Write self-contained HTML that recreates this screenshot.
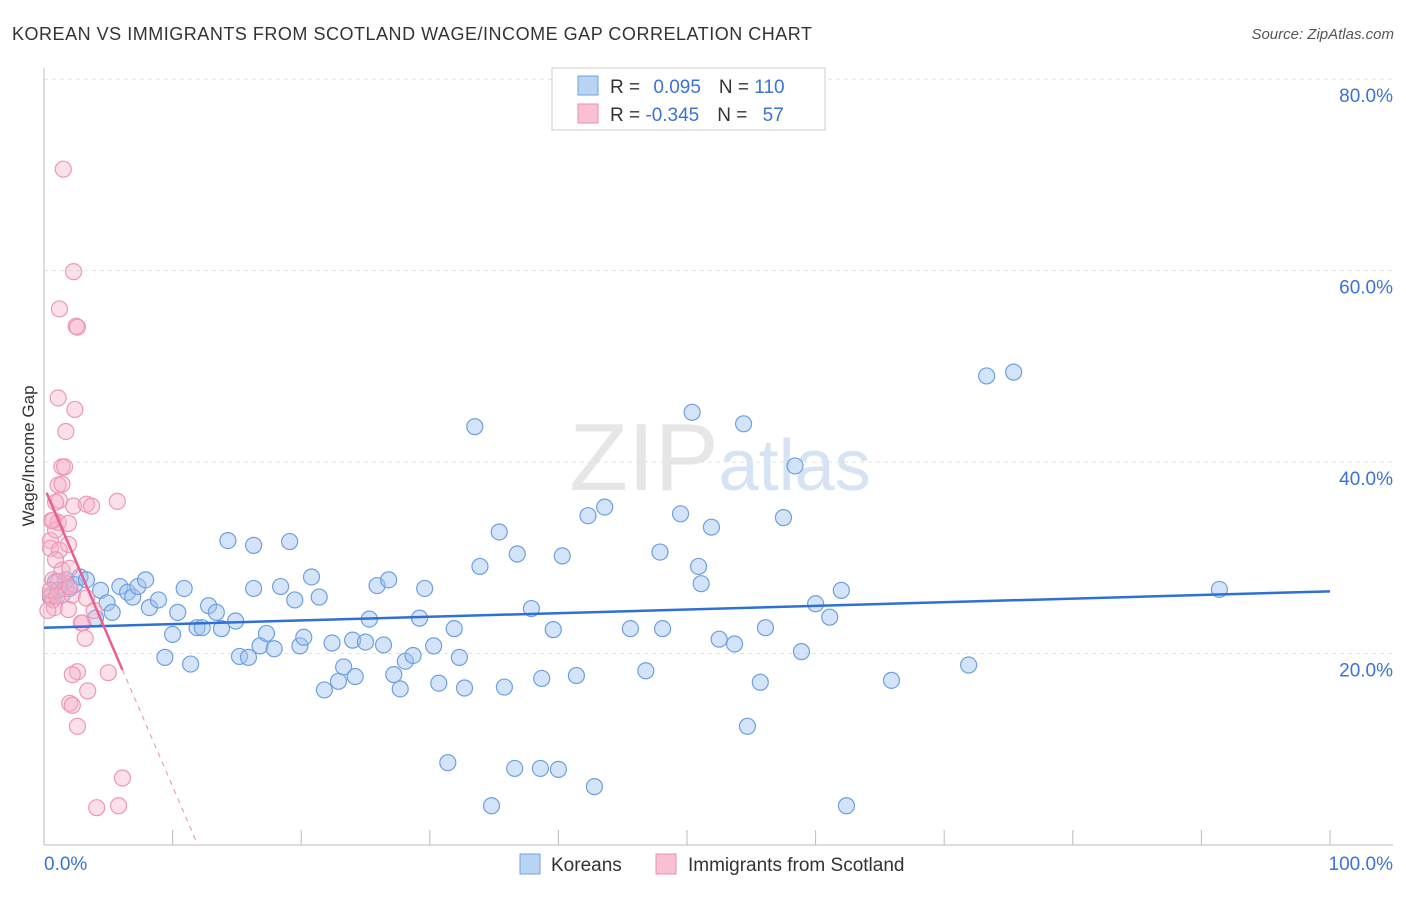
<!DOCTYPE html>
<html><head><meta charset="utf-8"><style>
body{margin:0;background:#fff;font-family:"Liberation Sans",sans-serif;}
svg text{font-family:"Liberation Sans",sans-serif;}
</style></head><body>
<svg id="chart" width="1406" height="892">
<text x="12" y="40" font-size="18" fill="#333" textLength="800">KOREAN VS IMMIGRANTS FROM SCOTLAND WAGE/INCOME GAP CORRELATION CHART</text>
<text x="1394" y="39" font-size="15" fill="#555" text-anchor="end" font-style="italic">Source: ZipAtlas.com</text>
<text x="720" y="490" font-size="96" fill="#e6e6e6" text-anchor="middle" font-family="Liberation Serif">ZIP<tspan fill="#d5e3f3" font-family="Liberation Sans" font-size="72">atlas</tspan></text>
<g id="grid"></g><g id="axes"></g><g id="pts"></g><g id="trend"></g>
<text transform="translate(34,456) rotate(-90)" font-size="17" fill="#333" text-anchor="middle">Wage/Income Gap</text>
<g>
<rect x="552" y="68" width="273" height="62" fill="#fff" stroke="#ccc"/>
<rect x="578" y="76" width="20" height="19" fill="#b9d3f3" stroke="#6fa0e0"/>
<rect x="578" y="104" width="20" height="19" fill="#f8c0d1" stroke="#ec8fae"/>
<text x="610" y="93" font-size="19" fill="#333">R = <tspan fill="#3b72d9" dx="8">0.095</tspan><tspan dx="18" fill="#333">N = </tspan><tspan fill="#3b72d9">110</tspan></text>
<text x="610" y="121" font-size="19" fill="#333">R = <tspan fill="#3b72d9">-0.345</tspan><tspan dx="18" fill="#333">N = </tspan><tspan fill="#3b72d9" dx="10">57</tspan></text>
</g>
<g>
<rect x="520" y="854" width="20" height="20" fill="#b9d3f3" stroke="#6fa0e0"/>
<text x="551" y="871" font-size="19" fill="#333">Koreans</text>
<rect x="656" y="854" width="20" height="20" fill="#f8c0d1" stroke="#ec8fae"/>
<text x="688" y="871" font-size="19" fill="#333">Immigrants from Scotland</text>
</g>
</svg>
<script>
const yTicks=[20,40,60,80];
const xTickLabels=["0.0%","100.0%"];
const koreanX=[0.5,0.9,1.1,1.4,1.7,2.0,2.4,2.8,3.3,4.0,4.4,4.9,5.3,5.9,6.5,6.9,7.3,7.9,8.2,8.9,9.4,10.0,10.4,10.9,11.4,11.9,12.3,12.8,13.4,13.8,14.3,14.9,15.2,15.9,16.3,16.3,16.8,17.3,17.9,18.4,19.1,19.5,19.9,20.2,20.8,21.4,21.8,22.4,22.9,23.3,24.0,24.2,25.0,25.3,25.9,26.4,26.8,27.2,27.7,28.1,28.7,29.2,29.6,30.3,30.7,31.4,31.9,32.3,32.7,33.5,33.9,34.8,35.4,35.8,36.6,36.8,37.9,38.6,38.7,39.6,40.0,40.3,41.4,42.3,42.8,43.6,45.6,46.8,47.9,48.1,49.5,50.4,50.9,51.1,51.9,52.5,53.7,54.4,54.7,55.7,56.1,57.5,58.4,58.9,60.0,61.1,62.0,62.4,65.9,71.9,73.3,75.4,91.4];
const koreanY=[25.9,27.5,26.6,26.1,27.7,26.8,27.2,28.0,27.7,23.7,26.6,25.3,24.3,27.0,26.4,25.9,27.0,27.7,24.8,25.6,19.6,22.0,24.3,26.8,18.9,22.7,22.7,25.0,24.3,22.6,31.8,23.4,19.7,19.6,31.3,26.8,20.8,22.1,20.5,27.0,31.7,25.6,20.8,21.7,28.0,25.9,16.2,21.1,17.1,18.6,21.4,17.6,21.2,23.6,27.1,20.9,27.7,17.8,16.3,19.2,19.8,23.7,26.8,20.8,16.9,8.6,22.6,19.6,16.4,43.7,29.1,4.1,32.7,16.5,8.0,30.4,24.7,8.0,17.4,22.5,7.9,30.2,17.7,34.4,6.1,35.3,22.6,18.2,30.6,22.6,34.6,45.2,29.1,27.3,33.2,21.5,21.0,44.0,12.4,17.0,22.7,34.2,39.6,20.2,25.2,23.8,26.6,4.1,17.2,18.8,49.0,49.4,26.7];
const scotX=[1.5,2.3,1.2,2.5,2.6,1.1,2.4,1.7,1.4,1.6,1.1,1.4,2.3,3.3,3.7,5.7,0.7,1.1,1.9,0.5,0.9,0.5,1.2,1.9,0.9,0.7,1.4,2.0,1.1,1.7,0.5,0.8,2.2,3.3,1.9,3.9,3.0,3.2,2.9,2.6,2.2,5.0,2.0,2.2,2.6,6.1,4.1,5.8,0.7,0.5,0.3,0.6,1.2,0.9,3.4,2.0,1.0];
const scotY=[70.6,59.9,56.0,54.2,54.1,46.7,45.5,43.2,39.5,39.5,37.6,37.7,35.4,35.6,35.4,35.9,33.9,33.7,33.6,31.8,32.9,31.0,30.8,31.4,29.8,27.7,28.7,28.9,27.5,26.8,26.1,24.8,26.1,25.8,24.6,24.5,23.2,21.6,23.2,18.1,17.8,18.0,14.8,14.6,12.4,7.0,3.9,4.1,25.6,26.6,24.5,33.9,36.0,35.8,16.1,27.0,26.0];
const X0=44,X1=1330,Y0=845,YP=9.5725;
const sx=v=>X0+(X1-X0)*v/100, sy=v=>Y0-YP*v;
const NS="http://www.w3.org/2000/svg";
function mk(t,a,p){const e=document.createElementNS(NS,t);for(const k in a)e.setAttribute(k,a[k]);p.appendChild(e);return e;}
const grid=document.getElementById('grid'),axes=document.getElementById('axes');
yTicks.forEach(t=>{
 const l=mk('line',{x1:44,x2:1393,y1:sy(t),y2:sy(t),stroke:'#e2e2e2','stroke-dasharray':'4,4'},grid);
 
 
 const tx=mk('text',{x:1393,y:sy(t)+23,'font-size':19,fill:'#3b72d9','text-anchor':'end'},grid);tx.textContent=t.toFixed(1)+'%';
 
 
});
const ya=mk('line',{x1:44,x2:44,y1:68,y2:845,stroke:'#bbb'},axes);


const xa=mk('line',{x1:44,x2:1393,y1:845,y2:845,stroke:'#bbb'},axes);


for(let i=0;i<=10;i++){const t=mk('line',{x1:sx(i*10),x2:sx(i*10),y1:830,y2:845,stroke:'#bbb'},axes);
 
 }
const xl0=mk('text',{x:44,y:870,'font-size':19,fill:'#3b72d9'},axes);xl0.textContent=xTickLabels[0];


const xl1=mk('text',{x:1393,y:870,'font-size':19,fill:'#3b72d9','text-anchor':'end'},axes);xl1.textContent=xTickLabels[1];


const pts=document.getElementById('pts');
koreanX.forEach((x,i)=>{const c=mk('circle',{cx:sx(x),cy:sy(koreanY[i]),r:8,fill:'rgba(160,196,240,0.45)',stroke:'#6d9fe0','stroke-width':1.2},pts);
 
 });
scotX.forEach((x,i)=>{const c=mk('circle',{cx:sx(x),cy:sy(scotY[i]),r:8,fill:'rgba(246,176,200,0.4)',stroke:'#ee97b5','stroke-width':1.2},pts);
 
 });
const tr=document.getElementById('trend');
const b=mk('line',{x1:sx(0),y1:sy(22.7),x2:sx(100),y2:sy(26.5),stroke:'#2f6fd6','stroke-width':2.5},tr);


const p=mk('line',{x1:sx(0.2),y1:sy(36.8),x2:sx(6.1),y2:sy(18.3),stroke:'#e8608e','stroke-width':2.5},tr);


const pd=mk('line',{x1:sx(6.1),y1:sy(18.3),x2:sx(11.8),y2:sy(0.5),stroke:'#e8a0b8','stroke-width':1.2,'stroke-dasharray':'5,5'},tr);


</script>
</body></html>
